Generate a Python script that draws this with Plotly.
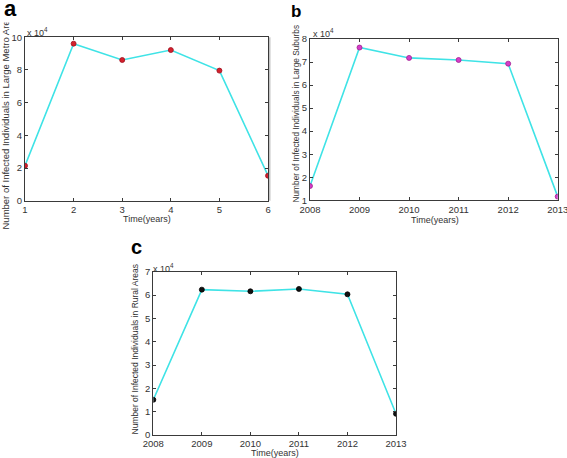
import plotly.graph_objects as go

# Data
years_a = [1, 2, 3, 4, 5, 6]
metro = [21400, 96100, 86100, 92200, 79600, 15300]

years_bc = [2008, 2009, 2010, 2011, 2012, 2013]
suburbs = [16200, 76300, 71800, 70900, 69300, 11600]
rural = [15100, 62300, 61600, 62600, 60300, 9100]

ticks_a = [0, 20000, 40000, 60000, 80000, 100000]
ticks_b = [10000, 20000, 30000, 40000, 50000, 60000, 70000, 80000]
ticks_c = [0, 10000, 20000, 30000, 40000, 50000, 60000, 70000]

LINE = "#3fe3e6"
FONT = "Liberation Sans, Arial, sans-serif"
AX = "#3a3a3a"
TICKSIZE = 9.5

fig = go.Figure()
fig.add_trace(go.Scatter(x=years_a, y=metro, mode="lines+markers", xaxis="x", yaxis="y",
                         line=dict(color=LINE, width=1.6),
                         marker=dict(color="#d4202c", size=5, line=dict(color="#a01020", width=0.8))))
fig.add_trace(go.Scatter(x=years_bc, y=suburbs, mode="lines+markers", xaxis="x2", yaxis="y2",
                         line=dict(color=LINE, width=1.6),
                         marker=dict(color="#d63cc8", size=5, line=dict(color="#a02090", width=0.8))))
fig.add_trace(go.Scatter(x=years_bc, y=rural, mode="lines+markers", xaxis="x3", yaxis="y3",
                         line=dict(color=LINE, width=1.6),
                         marker=dict(color="#111111", size=5, line=dict(color="#000000", width=0.8))))

def xa(dom, rng, anchor, tv):
    return dict(domain=dom, range=rng, anchor=anchor, tickvals=tv, ticks="inside", ticklen=3,
                showline=True, linecolor=AX, linewidth=1, mirror="ticks", showgrid=False,
                zeroline=False, automargin=False, ticklabeloverflow="allow",
                tickfont=dict(size=TICKSIZE, color="#333", family=FONT), tickcolor=AX)

def ya(dom, rng, anchor, tv):
    return dict(domain=dom, range=rng, anchor=anchor, tickvals=tv,
                ticktext=[str(int(v / 10000)) for v in tv], ticks="inside", ticklen=3,
                showline=True, linecolor=AX, linewidth=1, mirror="ticks", showgrid=False,
                zeroline=False, automargin=False, ticklabeloverflow="allow",
                tickfont=dict(size=TICKSIZE, color="#333", family=FONT), tickcolor=AX)

fig.update_layout(
    width=567, height=458, margin=dict(l=0, r=0, t=0, b=0, autoexpand=False),
    paper_bgcolor="white", plot_bgcolor="white", showlegend=False,
    font=dict(family=FONT, color="#333"),
    xaxis=xa([0.0441, 0.4727], [1, 6], "y", years_a),
    yaxis=ya([0.5618, 0.9186], [0, 100000], "x", ticks_a),
    xaxis2=xa([0.5467, 0.9836], [2008, 2013], "y2", years_bc),
    yaxis2=ya([0.5627, 0.9148], [10000, 80000], "x2", ticks_b),
    xaxis3=xa([0.2704, 0.6984], [2008, 2013], "y3", years_bc),
    yaxis3=ya([0.0502, 0.4068], [0, 70000], "x3", ticks_c),
)

def px(x, y):
    return x / 567, 1 - y / 458

# faint grey edge at right side of panel a (as in reference)
x0, y0 = px(269.5, 200.7)
x1, y1 = px(269.5, 37.3)
fig.add_shape(type="line", xref="paper", yref="paper", x0=x0, x1=x1, y0=y0, y1=y1,
              line=dict(color="#c4c4c4", width=2), layer="below")

anns = []
def ann(text, x, y, size=9, angle=0, bold=False, bg=None, xanchor="center", yanchor="middle"):
    ax, ay = px(x, y)
    d = dict(text=("<b>%s</b>" % text) if bold else text, x=ax, y=ay, xref="paper", yref="paper",
             showarrow=False, textangle=angle, xanchor=xanchor, yanchor=yanchor,
             font=dict(size=size, family=FONT, color="#000" if bold else "#333"))
    if bg:
        d["bgcolor"] = bg
    anns.append(d)

# axis titles
ann("Number of Infected Individuals in Large Metro Area", 4.5, 122, size=9.5, angle=-90)
ann("Time(years)", 147, 219)
ann("Number of Infected Individuals in Large Suburbs", 295, 113.5, size=8.3, angle=-90)
ann("Time(years)", 435, 220)
ann("Number of Infected Individuals in Rural Areas", 134, 349.5, size=8.5, angle=-90)
ann("Time(years)", 275, 453)
# exponent labels
ann("x 10<sup>4</sup>", 25, 32, size=9, xanchor="left")
ann("x 10<sup>4</sup>", 311, 33, size=9, xanchor="left")
ann("x 10<sup>4</sup>", 151, 268, size=9, xanchor="left")
# panel letters
ann("a", 10, 9, size=22, bold=True, bg="white")
ann("b", 296, 11, size=17, bold=True)
ann("c", 136, 247, size=20, bold=True)

fig.update_layout(annotations=anns)
fig.write_html("out.html", config={"displayModeBar": False},
               post_script="document.body.style.margin='0px';document.body.style.overflow='hidden';")
